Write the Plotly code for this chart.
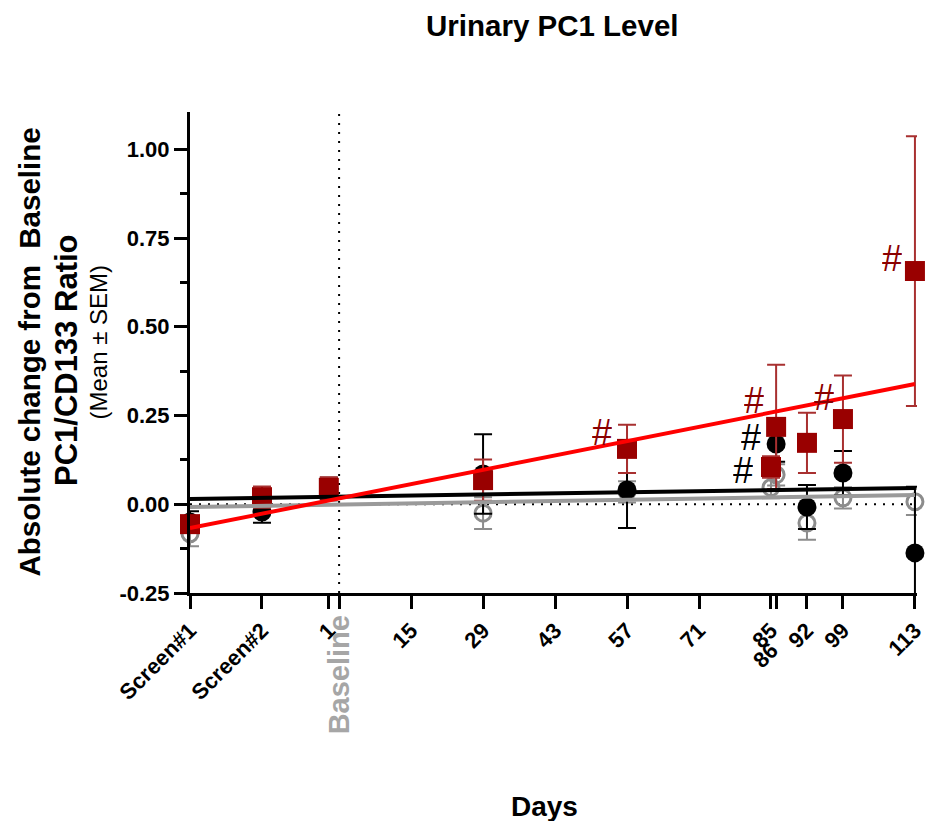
import plotly.graph_objects as go

# ---- data -------------------------------------------------------------
# Study day of each visit (Screen#1 / Screen#2 placed before day 1)
red_days = [-28, -14, -1, 29, 57, 85, 86, 92, 99, 113]
red_mean = [-0.056, 0.020, 0.046, 0.068, 0.156, 0.105, 0.218, 0.173, 0.240, 0.657]
red_sem = [0.020, 0.030, 0.030, 0.058, 0.068, 0.030, 0.175, 0.085, 0.123, 0.380]

black_days = [-28, -14, -1, 29, 57, 86, 92, 99, 113]
black_mean = [-0.050, -0.022, 0.045, 0.085, 0.040, 0.170, -0.008, 0.088, -0.137]
black_sem = [0.030, 0.030, 0.030, 0.112, 0.107, 0.050, 0.062, 0.062, 0.186]

grey_days = [-28, -14, -1, 29, 57, 85, 86, 92, 99, 113]
grey_mean = [-0.083, 0.010, 0.040, -0.025, 0.035, 0.047, 0.083, -0.053, 0.018, 0.007]
grey_sem = [0.035, 0.030, 0.030, 0.045, 0.030, 0.030, 0.030, 0.047, 0.030, 0.037]

# linear trend lines, evaluated at the first and last visit
fit_days = [-28, 113]
red_fit = [-0.067, 0.339]
black_fit = [0.015, 0.046]
grey_fit = [-0.008, 0.026]

# "#" significance marks (day, value)
red_hash_days = [52.1, 81.7, 95.3, 108.5]
red_hash_vals = [0.204, 0.294, 0.302, 0.694]
black_hash_days = [81.1, 79.6]
black_hash_vals = [0.190, 0.097]

# axis ticks
x_tickvals = [-28, -14, -1, 1, 15, 29, 43, 57, 71, 85, 86, 92, 99, 113]
x_ticktext = ["Screen#1", "Screen#2", "1", "", "15", "29", "43", "57", "71",
              "85", "", "92", "99", "113"]
y_tickvals = [-0.25, 0.0, 0.25, 0.5, 0.75, 1.0]
y_ticktext = ["-0.25", "0.00", "0.25", "0.50", "0.75", "1.00"]

baseline_day = 1
X_RANGE = [-28, 113.4]
Y_RANGE = [-0.25, 1.105]

FONT = "Liberation Sans, Arial, sans-serif"
DARK_RED = "#990000"
RED_ERR = "#A83030"
GREY = "#8C8C8C"

fig = go.Figure()


def points(days, mean, sem, color, symbol, size, lw, ecolor):
    fig.add_trace(go.Scatter(
        x=days, y=mean, mode="markers", cliponaxis=False,
        marker=dict(symbol=symbol, size=size, color=color,
                    line=dict(width=lw, color=color)),
        error_y=dict(type="data", array=sem, visible=True, color=ecolor,
                     thickness=2, width=9),
        hoverinfo="skip", showlegend=False))


points(grey_days, grey_mean, grey_sem, GREY, "circle-open", 16, 3, GREY)
points(black_days, black_mean, black_sem, "black", "circle", 19, 0, "black")
points(red_days, red_mean, red_sem, DARK_RED, "square", 20, 0, RED_ERR)

for vals, col in [(grey_fit, "#9A9A9A"), (black_fit, "black"), (red_fit, "#FF0000")]:
    fig.add_trace(go.Scatter(x=fit_days, y=vals, mode="lines",
                             line=dict(color=col, width=4),
                             hoverinfo="skip", showlegend=False))

# reference lines: zero change and baseline visit
fig.add_shape(type="line", xref="x", yref="y", x0=X_RANGE[0], x1=fit_days[-1],
              y0=0, y1=0, line=dict(color="black", width=2, dash="2px,7px"),
              layer="below")
fig.add_shape(type="line", xref="x", yref="paper", x0=baseline_day, x1=baseline_day,
              y0=0, y1=1, line=dict(color="black", width=2, dash="2px,7px"),
              layer="below")

annotations = []
for days_, vals_, col in [(red_hash_days, red_hash_vals, "#8B0000"),
                          (black_hash_days, black_hash_vals, "black")]:
    for d, v in zip(days_, vals_):
        annotations.append(dict(x=d, y=v, xref="x", yref="y", text="#", showarrow=False,
                                font=dict(family=FONT, size=36, color=col),
                                height=30, valign="middle",
                                xanchor="center", yanchor="middle"))

# special tick labels
annotations.append(dict(x=baseline_day, y=-0.171, xref="x", yref="paper",
                        text="<b>Baseline</b>", textangle=-90, showarrow=False,
                        font=dict(family=FONT, size=29, color="#A6A6A6"),
                        xanchor="center", yanchor="middle"))
annotations.append(dict(x=86, y=-0.129, xref="x", yref="paper", xshift=-11,
                        text="<b>86</b>", textangle=-45, showarrow=False,
                        font=dict(family=FONT, size=22, color="black"),
                        xanchor="center", yanchor="middle"))

# titles
annotations.append(dict(x=0.4993, y=1.179, xref="paper", yref="paper",
                        text="<b>Urinary PC1 Level</b>", showarrow=False,
                        font=dict(family=FONT, size=29.5, color="black"),
                        xanchor="center", yanchor="middle"))
annotations.append(dict(x=0.4883, y=-0.443, xref="paper", yref="paper",
                        text="<b>Days</b>", showarrow=False,
                        font=dict(family=FONT, size=28, color="black"),
                        xanchor="center", yanchor="middle"))
for xp, yp, txt, sz in [(-0.2201, 0.502, "<b>Absolute change from  Baseline</b>", 29.5),
                        (-0.1706, 0.4844, "<b>PC1/CD133 Ratio</b>", 31),
                        (-0.1265, 0.5208, "(Mean ± SEM)", 24)]:
    annotations.append(dict(x=xp, y=yp, xref="paper", yref="paper", text=txt,
                            textangle=-90, showarrow=False,
                            font=dict(family=FONT, size=sz, color="black"),
                            xanchor="center", yanchor="middle"))

fig.update_layout(
    width=925, height=821,
    margin=dict(l=190, r=8, t=112, b=228, autoexpand=False),
    paper_bgcolor="white", plot_bgcolor="white",
    showlegend=False,
    annotations=annotations,
    xaxis=dict(range=X_RANGE, tickmode="array", tickvals=x_tickvals, ticktext=x_ticktext,
               tickangle=-45, ticks="outside", ticklen=13, tickwidth=3, tickcolor="black",
               showline=True, linewidth=3, linecolor="black", automargin=False,
               showgrid=False, zeroline=False, ticklabeloverflow="allow",
               tickfont=dict(family=FONT, size=22, color="black", weight="bold")),
    yaxis=dict(range=Y_RANGE, tickmode="array", tickvals=y_tickvals, ticktext=y_ticktext,
               ticks="outside", ticklen=13, tickwidth=3, tickcolor="black",
               showline=True, linewidth=3, linecolor="black", automargin=False,
               showgrid=False, zeroline=False,
               minor=dict(tickmode="linear", tick0=-0.25, dtick=0.125, ticks="outside",
                          ticklen=7, tickwidth=3, tickcolor="black", showgrid=False),
               tickfont=dict(family=FONT, size=22, color="black", weight="bold")),
)

fig.write_html("out.html")
